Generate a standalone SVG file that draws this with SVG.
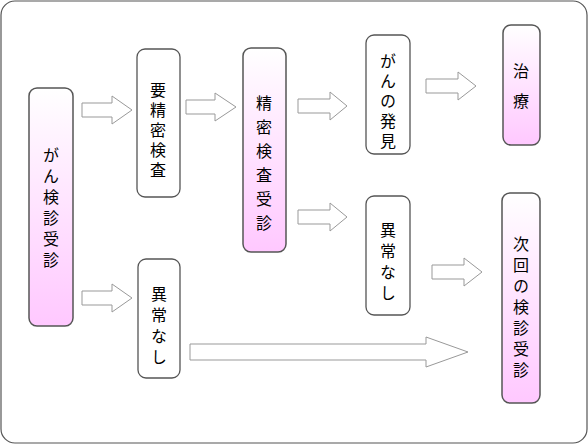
<svg xmlns="http://www.w3.org/2000/svg" width="588" height="444" viewBox="0 0 588 444">
<defs>
<linearGradient id="pink" x1="0" y1="0" x2="0" y2="1">
<stop offset="0" stop-color="#ffffff"/>
<stop offset="0.15" stop-color="#fff6ff"/>
<stop offset="1" stop-color="#ffc8ff"/>
</linearGradient>
</defs>
<style>
.frame{fill:#fff;stroke:#555;stroke-width:1.2}
.pk{fill:url(#pink);stroke:#555;stroke-width:1.5}
.wt{fill:#fff;stroke:#555;stroke-width:1.3}
.ar{fill:#fff;stroke:#999;stroke-width:1}
.t{font-family:"Noto Sans CJK JP","Noto Sans",sans-serif;font-size:16px;fill:#000;text-anchor:middle;writing-mode:vertical-rl}
</style>
<rect class="frame" x="1" y="1" width="586" height="442" rx="14"/>
<g id="connectors">
<polygon class="ar" points="82,103 112,103 112,96 132,110 112,124 112,117 82,117"/>
<polygon class="ar" points="82,291 112,291 112,284 132,298 112,312 112,305 82,305"/>
<polygon class="ar" points="186,100 215,100 215,93 236,107 215,121 215,114 186,114"/>
<polygon class="ar" points="298,99 330,99 330,92 347,106 330,120 330,113 298,113"/>
<polygon class="ar" points="298,210 330,210 330,203 347,217 330,231 330,224 298,224"/>
<polygon class="ar" points="426,79 458,79 458,72 476,86 458,100 458,93 426,93"/>
<polygon class="ar" points="432,265 464,265 464,258 482,272 464,286 464,279 432,279"/>
<polygon class="ar" points="190,344 426,344 426,337 468,352 426,367 426,360 190,360"/>
</g>
<g id="n1">
<rect class="pk" x="29" y="88" width="44" height="238" rx="8"/>
<text class="t" x="51" y="210" letter-spacing="5">がん検診受診</text>
</g>
<g id="n2">
<rect class="wt" x="137" y="49" width="43" height="148" rx="8"/>
<text class="t" x="158" y="132" letter-spacing="4">要精密検査</text>
</g>
<g id="n3">
<rect class="pk" x="243" y="48" width="43" height="204" rx="8"/>
<text class="t" x="264" y="167" letter-spacing="8">精密検査受診</text>
</g>
<g id="n4">
<rect class="wt" x="366" y="35" width="44" height="119" rx="8"/>
<text class="t" x="388" y="103" letter-spacing="4">がんの発見</text>
</g>
<g id="n5">
<rect class="pk" x="503" y="25" width="37" height="120" rx="8"/>
<text class="t" x="521" y="93" letter-spacing="14">治療</text>
</g>
<g id="n6">
<rect class="wt" x="366" y="196" width="44" height="119" rx="8"/>
<text class="t" x="388" y="264" letter-spacing="5">異常なし</text>
</g>
<g id="n7">
<rect class="pk" x="502" y="193" width="38" height="210" rx="8"/>
<text class="t" x="521" y="309" letter-spacing="5">次回の検診受診</text>
</g>
<g id="n8">
<rect class="wt" x="138" y="259" width="42" height="119" rx="8"/>
<text class="t" x="159" y="328" letter-spacing="5">異常なし</text>
</g>
</svg>
